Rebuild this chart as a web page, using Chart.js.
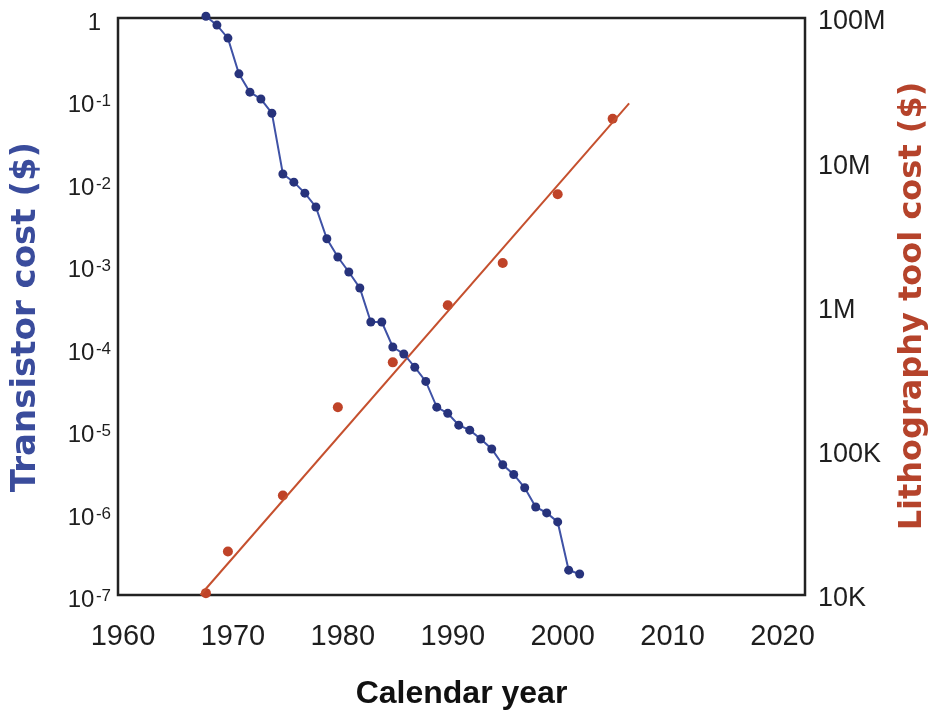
<!DOCTYPE html>
<html><head><meta charset="utf-8">
<script src="https://cdn.jsdelivr.net/npm/chart.js@4.4.1/dist/chart.umd.min.js"></script>
<style>html,body{margin:0;padding:0;background:#fff;}#wrap{width:935px;height:724px;}</style>
</head><body><div id="wrap"><canvas id="c" width="935" height="724"></canvas></div>
<script>
// ---- data ----
const transistorYears = [1968,1969,1970,1971,1972,1973,1974,1975,1976,1977,1978,1979,1980,1981,1982,1983,1984,1985,1986,1987,1988,1989,1990,1991,1992,1993,1994,1995,1996,1997,1998,1999,2000,2001,2002];
const transistorCost = [1.05,0.82,0.57,0.21,0.126,0.104,0.070,0.0128,0.0102,0.0075,0.0051,0.0021,0.00126,0.00083,0.00053,0.000205,0.000205,0.000102,0.000084,0.000058,0.000039,0.000019,0.000016,0.0000115,0.0000100,0.0000078,0.0000059,0.0000038,0.0000029,0.0000020,0.00000117,0.00000099,0.00000077,0.00000020,0.00000018];
const toolYears = [1968,1970,1975,1980,1985,1990,1995,2000,2005];
const toolCost = [1.03e4,2.0e4,4.9e4,2.0e5,4.1e5,1.02e6,2.0e6,6.0e6,2.0e7];
const toolTrendYears = [1967.5,2006.5];
const toolTrendCost = [1.0e4,2.56e7];
const yearTicks = [1960,1970,1980,1990,2000,2010,2020];
const costTickValues = [1,1e-1,1e-2,1e-3,1e-4,1e-5,1e-6,1e-7];
const costTickLabels = [['1',''],['10','-1'],['10','-2'],['10','-3'],['10','-4'],['10','-5'],['10','-6'],['10','-7']];
const toolTickValues = [1e4,1e5,1e6,1e7,1e8];
const toolTickLabels = ['10K','100K','1M','10M','100M'];

const FONT = '"Liberation Sans", Arial, Helvetica, sans-serif';
const TFONT = '"DejaVu Sans", "Liberation Sans", Arial, sans-serif';
const BLUE_LINE = '#3f52a6', BLUE_DOT = '#27337c';
const RED_LINE = '#c5502e', RED_DOT = '#bf4328';

const pairs = (xs, ys) => xs.map((x, i) => ({x, y: ys[i]}));

const decor = {
  id: 'decor',
  beforeDatasetsDraw(chart) {
    const {ctx, chartArea: a} = chart;
    ctx.save();
    ctx.strokeStyle = '#222';
    ctx.lineWidth = 2.5;
    ctx.strokeRect(a.left, a.top, a.right - a.left, a.bottom - a.top);
    ctx.restore();
  },
  afterDraw(chart) {
    const {ctx} = chart;
    const ys = chart.scales.y;
    ctx.save();
    ctx.fillStyle = '#1e1e1e';
    ctx.textAlign = 'left';
    ctx.textBaseline = 'alphabetic';
    costTickValues.forEach((v, i) => {
      const y = ys.getPixelForValue(v);
      const [base, exp] = costTickLabels[i];
      ctx.font = '24px ' + FONT;
      const bw = ctx.measureText(base).width;
      ctx.font = '17px ' + FONT;
      const ew = exp ? ctx.measureText(exp).width : 0;
      const right = exp ? 111 : 101;
      ctx.font = '24px ' + FONT;
      ctx.fillText(base, right - ew - (exp ? 1.5 : 0) - bw, y + 12);
      if (exp) {
        ctx.font = '17px ' + FONT;
        ctx.fillText(exp, right - ew, y + 6);
      }
    });
    // left axis title (reads bottom to top)
    ctx.save();
    ctx.translate(26, 317);
    ctx.rotate(-Math.PI / 2);
    ctx.font = 'bold 34px ' + TFONT;
    ctx.fillStyle = '#3a4c9c';
    ctx.textAlign = 'center';
    ctx.textBaseline = 'middle';
    ctx.fillText('Transistor cost ($)', 0, 0);
    ctx.restore();
    // right axis title (reads bottom to top)
    ctx.translate(913, 306);
    ctx.rotate(-Math.PI / 2);
    ctx.font = 'bold 32px ' + TFONT;
    ctx.fillStyle = '#b5432b';
    ctx.textAlign = 'center';
    ctx.textBaseline = 'middle';
    ctx.fillText('Lithography tool cost ($)', 0, 0);
    ctx.restore();
  }
};

new Chart(document.getElementById('c'), {
  type: 'scatter',
  data: {
    datasets: [
      {
        type: 'line', label: 'Transistor cost', yAxisID: 'y',
        data: pairs(transistorYears, transistorCost),
        borderColor: BLUE_LINE, borderWidth: 2, tension: 0,
        pointRadius: 4.5, pointBackgroundColor: BLUE_DOT, pointBorderColor: BLUE_DOT, pointBorderWidth: 0,
        clip: false
      },
      {
        type: 'line', label: 'Trend', yAxisID: 'y2',
        data: pairs(toolTrendYears, toolTrendCost),
        borderColor: RED_LINE, borderWidth: 2, pointRadius: 0, clip: false
      },
      {
        type: 'scatter', label: 'Lithography tool cost', yAxisID: 'y2',
        data: pairs(toolYears, toolCost),
        pointRadius: 5, backgroundColor: RED_DOT, borderColor: RED_DOT, borderWidth: 0, clip: false
      }
    ]
  },
  options: {
    responsive: false, animation: false, devicePixelRatio: 1,
    layout: {padding: {top: 18, left: 0, right: 0, bottom: 0}},
    plugins: {legend: {display: false}, tooltip: {enabled: false}},
    scales: {
      x: {
        type: 'linear', position: 'bottom', min: 1960, max: 2022.5,
        afterBuildTicks: s => { s.ticks = yearTicks.map(v => ({value: v})); },
        afterFit: s => { s.height = 129; s.paddingLeft = 0; s.paddingRight = 0; },
        grid: {display: false, drawTicks: false}, border: {display: false},
        ticks: {font: {family: FONT, size: 29}, color: '#1e1e1e', padding: 25, labelOffset: 5, maxRotation: 0, autoSkip: false, callback: v => String(v)},
        title: {display: true, text: 'Calendar year', color: '#111', font: {family: FONT, size: 32, weight: 'bold'}, padding: {top: 0, bottom: 11}}
      },
      y: {
        type: 'logarithmic', position: 'left', min: 1e-7, max: 1,
        afterBuildTicks: s => { s.ticks = costTickValues.map(v => ({value: v})); },
        afterFit: s => { s.width = 118; s.paddingTop = 0; s.paddingBottom = 0; },
        grid: {display: false, drawTicks: false}, border: {display: false},
        ticks: {display: false}
      },
      y2: {
        type: 'logarithmic', position: 'right', min: 1e4, max: 1e8,
        afterBuildTicks: s => { s.ticks = toolTickValues.map(v => ({value: v})); },
        afterFit: s => { s.width = 130; s.paddingTop = 0; s.paddingBottom = 0; },
        grid: {display: false, drawTicks: false}, border: {display: false},
        ticks: {font: {family: FONT, size: 27}, color: '#1e1e1e', padding: 13, labelOffset: 4, callback: (v, i) => toolTickLabels[i]}
      }
    }
  },
  plugins: [decor]
});
</script></body></html>
